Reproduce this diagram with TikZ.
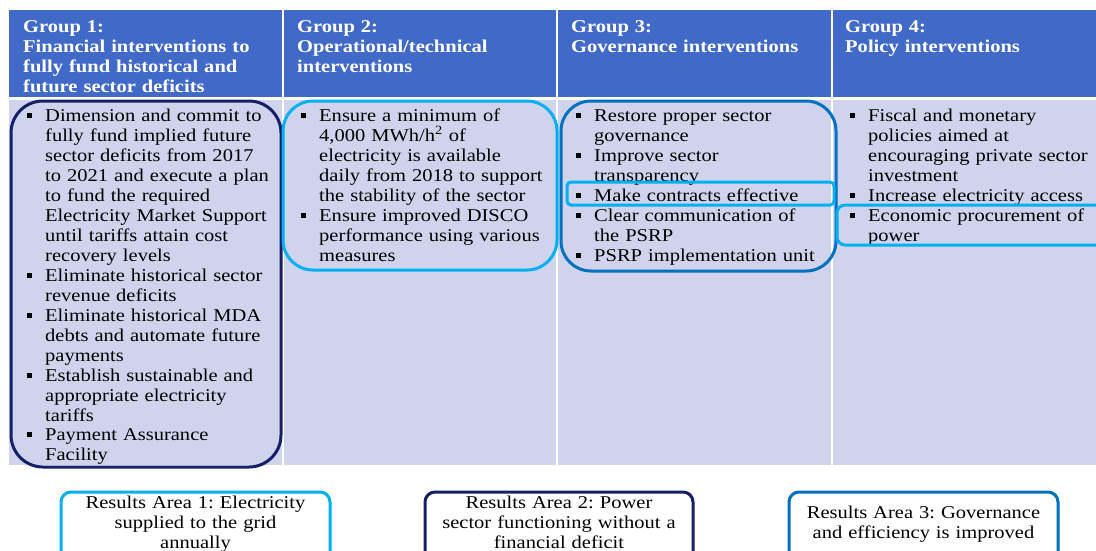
\documentclass[tikz,border=0pt]{standalone}
\usepackage{fontspec}
\setmainfont{Liberation Serif}[FakeStretch=1.14]
\usepackage{xcolor}
\usepackage{tikz}
\setlength{\parindent}{0pt}
\frenchspacing

\definecolor{headblue}{RGB}{65,105,200}
\definecolor{cellblue}{RGB}{207,212,236}
\definecolor{navyline}{RGB}{22,32,104}
\definecolor{cyanline}{RGB}{0,176,240}
\definecolor{midline}{RGB}{0,112,192}

\newcommand{\bul}{\llap{\rule[3.5pt]{5pt}{5pt}\hspace{13.5pt}}}

\tikzset{
	headtext/.style={anchor=base west, inner sep=0pt, text width=255pt, align=left, text=white, font=\fontsize{18}{20}\selectfont\bfseries},
	itemtext/.style={anchor=base west, inner sep=0pt, text width=255pt, align=left, font=\fontsize{18}{20}\selectfont},
	resulttext/.style={anchor=base, inner sep=0pt, text width=265pt, align=center, font=\fontsize{18}{20}\selectfont},
	groupbox/.style={line width=3pt, rounded corners=30pt},
	resultbox/.style={line width=3pt, rounded corners=10pt, fill=white}
}

\begin{document}
\begin{tikzpicture}[x=1pt,y=1pt,yscale=-1,xscale=1]
		\useasboundingbox (0,0) rectangle (1096,550);
		\clip (0,0) rectangle (1096,550);
		
		%Shape: Header cells
		\fill [headblue] (9,10) rectangle (282,97);
		\fill [headblue] (284,10) rectangle (556,97);
		\fill [headblue] (558,10) rectangle (831,97);
		\fill [headblue] (833,10) rectangle (1096,97);
		%Shape: Body cells
		\fill [cellblue] (9,100) rectangle (282,465);
		\fill [cellblue] (284,100) rectangle (556,465);
		\fill [cellblue] (558,100) rectangle (831,465);
		\fill [cellblue] (833,100) rectangle (1096,465);
		
		% Text Node
		\node (hd1) [headtext] at (23,32) {Group 1:\\ Financial interventions to\\ fully fund historical and\\ future sector deficits};
		% Text Node
		\node (hd2) [headtext] at (297,32) {Group 2:\\ Operational/technical\\ interventions};
		% Text Node
		\node (hd3) [headtext] at (571,32) {Group 3:\\ Governance interventions};
		% Text Node
		\node (hd4) [headtext] at (845,32) {Group 4:\\ Policy interventions};
		
		% Text Node
		\node (fin1) [itemtext] at (45,121) {\bul Dimension and commit to\\ fully fund implied future\\ sector deficits from 2017\\ to 2021 and execute a plan\\ to fund the required\\ Electricity Market Support\\ until tariffs attain cost\\ recovery levels};
		% Text Node
		\node (fin2) [itemtext] at (45,281) {\bul Eliminate historical sector\\ revenue deficits};
		% Text Node
		\node (fin3) [itemtext] at (45,321) {\bul Eliminate historical MDA\\ debts and automate future\\ payments};
		% Text Node
		\node (fin4) [itemtext] at (45,381) {\bul Establish sustainable and\\ appropriate electricity\\ tariffs};
		% Text Node
		\node (fin5) [itemtext] at (45,440) {\bul Payment Assurance\\ Facility};
		
		% Text Node
		\node (ops1) [itemtext] at (319,121) {\bul Ensure a minimum of\\ 4,000 MWh/h\textsuperscript{2} of\\ electricity is available\\ daily from 2018 to support\\ the stability of the sector};
		% Text Node
		\node (ops2) [itemtext] at (319,221) {\bul Ensure improved DISCO\\ performance using various\\ measures};
		
		% Text Node
		\node (gov1) [itemtext] at (594,121) {\bul Restore proper sector\\ governance};
		% Text Node
		\node (gov2) [itemtext] at (594,161) {\bul Improve sector\\ transparency};
		% Text Node
		\node (gov3) [itemtext] at (594,201) {\bul Make contracts effective};
		% Text Node
		\node (gov4) [itemtext] at (594,221) {\bul Clear communication of\\ the PSRP};
		% Text Node
		\node (gov5) [itemtext] at (594,261) {\bul PSRP implementation unit};
		
		% Text Node
		\node (pol1) [itemtext] at (868,121) {\bul Fiscal and monetary\\ policies aimed at\\ encouraging private sector\\ investment};
		% Text Node
		\node (pol2) [itemtext] at (868,201) {\bul Increase electricity access};
		% Text Node
		\node (pol3) [itemtext] at (868,221) {\bul Economic procurement of\\ power};
		
		%Shape: Rounded group outlines
		\draw [groupbox, draw=navyline, rounded corners=32pt] (11,101) rectangle (281,467);
		\draw [groupbox, draw=cyanline] (283,101) rectangle (557,270);
		\draw [groupbox, draw=midline] (561,101) rectangle (836,271);
		\draw [draw=cyanline, line width=3pt, rounded corners=4pt] (567,182) rectangle (834,205);
		\draw [draw=cyanline, line width=3pt, rounded corners=8pt] (837,205) rectangle (1112,245);
		
		%Shape: Results boxes
		\draw [resultbox, draw=cyanline] (61,492) rectangle (330,565);
		\draw [resultbox, draw=navyline] (425,492) rectangle (693,565);
		\draw [resultbox, draw=midline] (789,492) rectangle (1058,565);
		
		% Text Node
		\node (res1) [resulttext] at (195.5,508) {Results Area 1: Electricity\\ supplied to the grid\\ annually};
		% Text Node
		\node (res2) [resulttext] at (559,508) {Results Area 2: Power\\ sector functioning without a\\ financial deficit};
		% Text Node
		\node (res3) [resulttext] at (923.5,518) {Results Area 3: Governance\\ and efficiency is improved};
		
\end{tikzpicture}
\end{document}
